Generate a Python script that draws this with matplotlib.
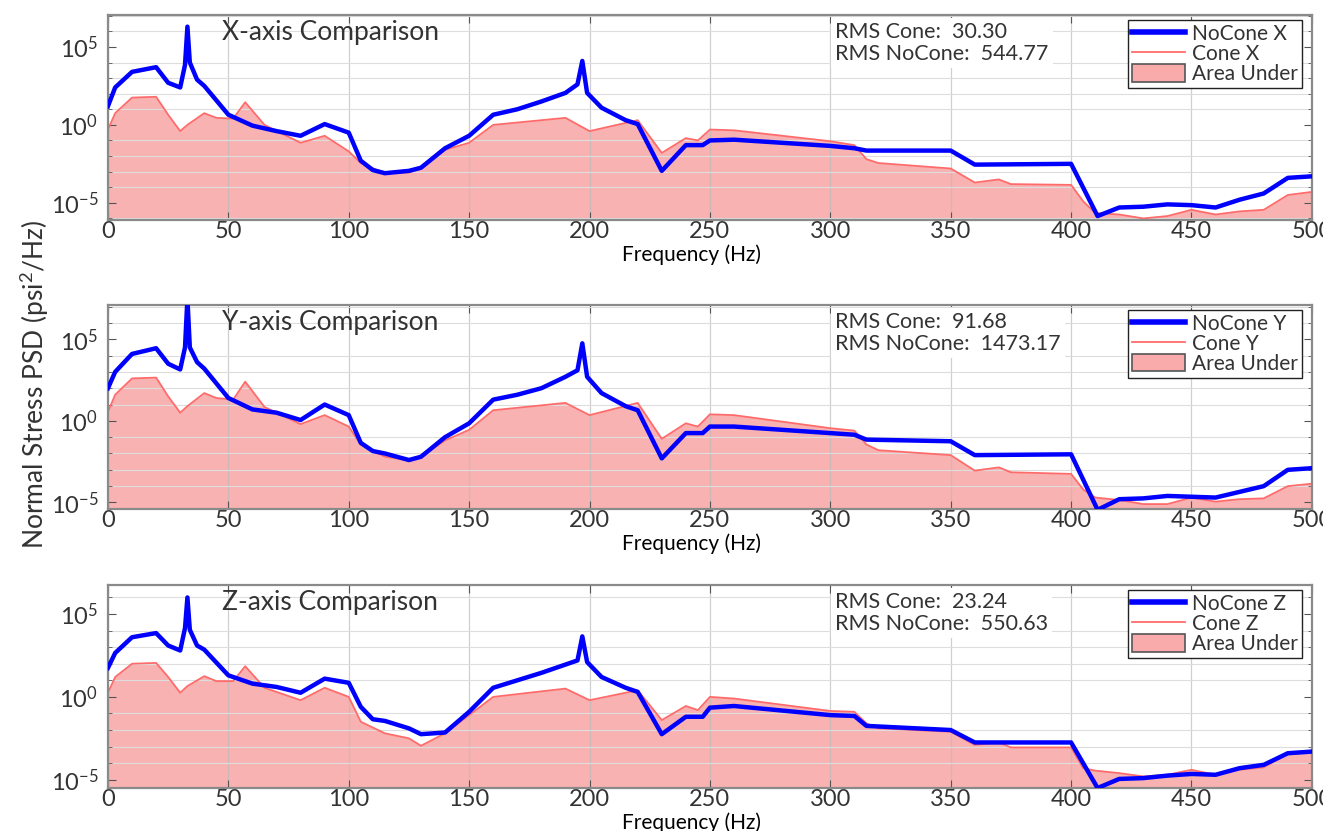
import matplotlib
matplotlib.use("Agg")
import matplotlib.pyplot as plt
import numpy as np
from matplotlib.lines import Line2D
from matplotlib.patches import Patch
from matplotlib.ticker import FixedLocator, FixedFormatter, NullFormatter

plt.rcParams.update({
    "font.family": ["Lato", "DejaVu Sans"],
    "mathtext.fontset": "custom", "mathtext.rm": "Lato", "mathtext.it": "Lato",
    "text.color": "#333333", "axes.edgecolor": "#888888",
    "xtick.color": "#555555", "ytick.color": "#555555",
    "xtick.labelcolor": "#333333", "ytick.labelcolor": "#333333",
})

C_NOCONE, C_CONE, C_FILL = "#0000ff", "#ff6b6b", "#f25555"

# frequency points (Hz)
F_NOCONE = [0, 3, 10, 20, 25, 30, 32, 33, 34, 37, 40, 50, 60, 70, 80, 90, 100, 105, 110, 115,
            125, 130, 140, 150, 160, 170, 180, 190, 195, 197, 199, 205, 215, 220, 230, 240, 247,
            250, 260, 300, 310, 315, 350, 360, 400, 411, 420, 430, 440, 450, 460, 470, 480, 490, 500]
F_CONE = [0, 3, 10, 20, 25, 30, 33, 40, 45, 52, 57, 65, 80, 90, 100, 105, 115, 125, 130, 140,
          150, 160, 190, 200, 220, 230, 240, 245, 250, 260, 300, 310, 315, 320, 350, 360, 370,
          375, 400, 405, 410, 420, 430, 440, 450, 460, 470, 480, 490, 500]

# PSD values as log10 exponents
X_NOCONE = [1.2, 2.4, 3.4, 3.7, 2.7, 2.4, 3.85, 6.3, 4.0, 2.9, 2.5, 0.65, -0.05, -0.4, -0.7, 0.05,
            -0.5, -2.3, -2.9, -3.1, -2.95, -2.75, -1.5, -0.7, 0.65, 1.0, 1.5, 2.05, 2.6, 4.1, 2.05,
            1.1, 0.3, 0.05, -2.95, -1.3, -1.3, -1.0, -0.95, -1.35, -1.5, -1.65, -1.65, -2.55, -2.5,
            -5.85, -5.3, -5.25, -5.1, -5.15, -5.3, -4.8, -4.4, -3.4, -3.3]
X_CONE = [-0.3, 0.75, 1.75, 1.8, 0.65, -0.4, 0.0, 0.75, 0.45, 0.4, 1.45, 0.0, -1.15, -0.7, -1.7,
          -2.45, -3.1, -3.05, -2.8, -1.6, -1.15, 0.0, 0.45, -0.4, 0.3, -1.8, -0.85, -1.0, -0.3,
          -0.35, -1.05, -1.3, -2.2, -2.45, -2.8, -3.7, -3.5, -3.8, -3.85, -4.9, -5.65, -5.75,
          -6.0, -5.85, -5.45, -5.75, -5.55, -5.45, -4.5, -4.3]

Y_NOCONE = [2.0, 3.0, 4.1, 4.45, 3.5, 3.15, 4.5, 7.5, 4.5, 3.6, 3.2, 1.4, 0.7, 0.5, 0.05, 1.0,
            0.35, -1.35, -1.85, -2.0, -2.4, -2.2, -1.0, -0.15, 1.3, 1.6, 2.0, 2.7, 3.1, 4.75, 2.7,
            1.7, 0.9, 0.65, -2.3, -0.75, -0.75, -0.35, -0.35, -0.75, -0.85, -1.15, -1.25, -2.1,
            -2.05, -5.45, -4.8, -4.75, -4.6, -4.65, -4.7, -4.35, -4.0, -3.0, -2.9]
Y_CONE = [0.55, 1.6, 2.6, 2.65, 1.5, 0.5, 0.9, 1.7, 1.4, 1.3, 2.4, 0.85, -0.2, 0.35, -0.35,
          -1.45, -2.2, -2.4, -2.2, -1.2, -0.55, 0.65, 1.1, 0.35, 1.1, -1.1, -0.15, -0.35, 0.4,
          0.35, -0.45, -0.6, -1.45, -1.8, -2.1, -3.05, -2.85, -3.15, -3.25, -4.2, -4.7, -4.85,
          -5.1, -5.1, -4.7, -4.95, -4.8, -4.75, -4.0, -3.85]

Z_NOCONE = [1.75, 2.65, 3.6, 3.85, 3.1, 2.8, 4.15, 6.0, 4.05, 3.1, 2.85, 1.3, 0.8, 0.6, 0.25, 1.1,
            0.85, -0.6, -1.35, -1.45, -1.9, -2.25, -2.15, -0.9, 0.55, 1.0, 1.45, 1.95, 2.2, 3.65,
            2.1, 1.2, 0.55, 0.3, -2.25, -1.2, -1.2, -0.65, -0.55, -1.1, -1.15, -1.75, -2.0, -2.75,
            -2.75, -5.5, -4.95, -4.9, -4.75, -4.65, -4.7, -4.3, -4.1, -3.4, -3.3]
Z_CONE = [0.25, 1.2, 2.0, 2.05, 1.2, 0.25, 0.65, 1.25, 0.95, 0.95, 1.85, 0.55, -0.2, 0.55, 0.0,
          -1.5, -2.2, -2.5, -2.95, -2.2, -1.1, 0.0, 0.5, -0.2, 0.4, -1.4, -0.55, -0.8, 0.0, -0.1,
          -0.85, -0.9, -1.6, -1.9, -2.1, -2.9, -2.75, -3.05, -3.05, -4.3, -4.45, -4.6, -4.8,
          -4.7, -4.4, -4.7, -4.4, -4.25, -3.45, -3.35]

AXES = ["X", "Y", "Z"]
RMS_CONE = ["30.30", "91.68", "23.24"]
RMS_NOCONE = ["544.77", "1473.17", "550.63"]
YLIM_EXP = [(-6.1, 7.05), (-5.4, 7.1), (-5.5, 6.75)]

fig = plt.figure(figsize=(13.23, 8.31), dpi=100)
rects = [(0.0816, 0.7353, 0.910, 0.2467),
         (0.0816, 0.3875, 0.910, 0.2455),
         (0.0816, 0.0517, 0.910, 0.2443)]

for rect, name, nc, c, rc, rn, yl in zip(rects, AXES, [X_NOCONE, Y_NOCONE, Z_NOCONE],
                                         [X_CONE, Y_CONE, Z_CONE], RMS_CONE, RMS_NOCONE, YLIM_EXP):
    ax = fig.add_axes(rect)
    ax.set_yscale("log")
    cone = 10.0 ** np.array(c)
    nocone = 10.0 ** np.array(nc)
    ax.fill_between(F_CONE, 1e-12, cone, color=C_FILL, alpha=0.45, lw=0, zorder=1)
    ax.plot(F_CONE, cone, color=C_CONE, lw=1.3, zorder=2)
    ax.plot(F_NOCONE, nocone, color=C_NOCONE, lw=3.2, zorder=3)

    ax.set_xlim(0, 500)
    ax.set_ylim(10 ** yl[0], 10 ** yl[1])
    ax.set_xticks(np.arange(0, 501, 50))
    ax.yaxis.set_major_locator(FixedLocator([1e-5, 1e0, 1e5]))
    ax.yaxis.set_major_formatter(FixedFormatter([r"$10^{-5}$", r"$10^{0}$", r"$10^{5}$"]))
    ax.yaxis.set_minor_locator(FixedLocator([10.0 ** k for k in range(-7, 9)]))
    ax.yaxis.set_minor_formatter(NullFormatter())
    ax.tick_params(axis="both", which="both", direction="in", top=True, right=True)
    ax.tick_params(axis="both", which="major", labelsize=17, length=6, pad=1)
    ax.tick_params(axis="y", which="major", pad=7)
    ax.tick_params(axis="y", which="minor", length=3)
    ax.grid(True, axis="x", which="major", color="#bbbbbb", lw=0.9, alpha=0.7)
    ax.grid(True, axis="y", which="minor", color="#dddddd", lw=0.8)
    for s in ax.spines.values():
        s.set_linewidth(1.6)
        s.set_color("#8a8a8a")
    ax.set_xlabel("Frequency (Hz)", fontsize=15)
    ax.xaxis.set_label_coords(0.485, -0.118)

    ax.text(0.095, 0.915, f"{name}-axis Comparison", transform=ax.transAxes,
            fontsize=19, va="center", ha="left", zorder=5)
    ax.text(0.604, 0.862, f"RMS Cone:  {rc}\nRMS NoCone:  {rn}", transform=ax.transAxes,
            fontsize=15.5, va="center", ha="left", linespacing=1.12, zorder=5,
            bbox=dict(facecolor="white", edgecolor="none", pad=3))

    handles = [Line2D([], [], color=C_NOCONE, lw=4),
               Line2D([], [], color=C_CONE, lw=1.3),
               Patch(facecolor="#f9aaaa", edgecolor="#555555", lw=1.2)]
    ax.legend(handles, [f"NoCone {name}", f"Cone {name}", "Area Under"],
              loc="upper right", bbox_to_anchor=(0.9917, 0.976), fontsize=15,
              frameon=True, fancybox=False, framealpha=1, edgecolor="#222222",
              handlelength=2.5, handleheight=0.9, labelspacing=0.0, borderpad=0.2,
              handletextpad=0.35, borderaxespad=0.0)

fig.text(0.026, 0.538, "Normal Stress PSD (psi$^2$/Hz)", rotation=90, fontsize=19,
         ha="center", va="center")

fig.savefig("out.png", dpi=100)
